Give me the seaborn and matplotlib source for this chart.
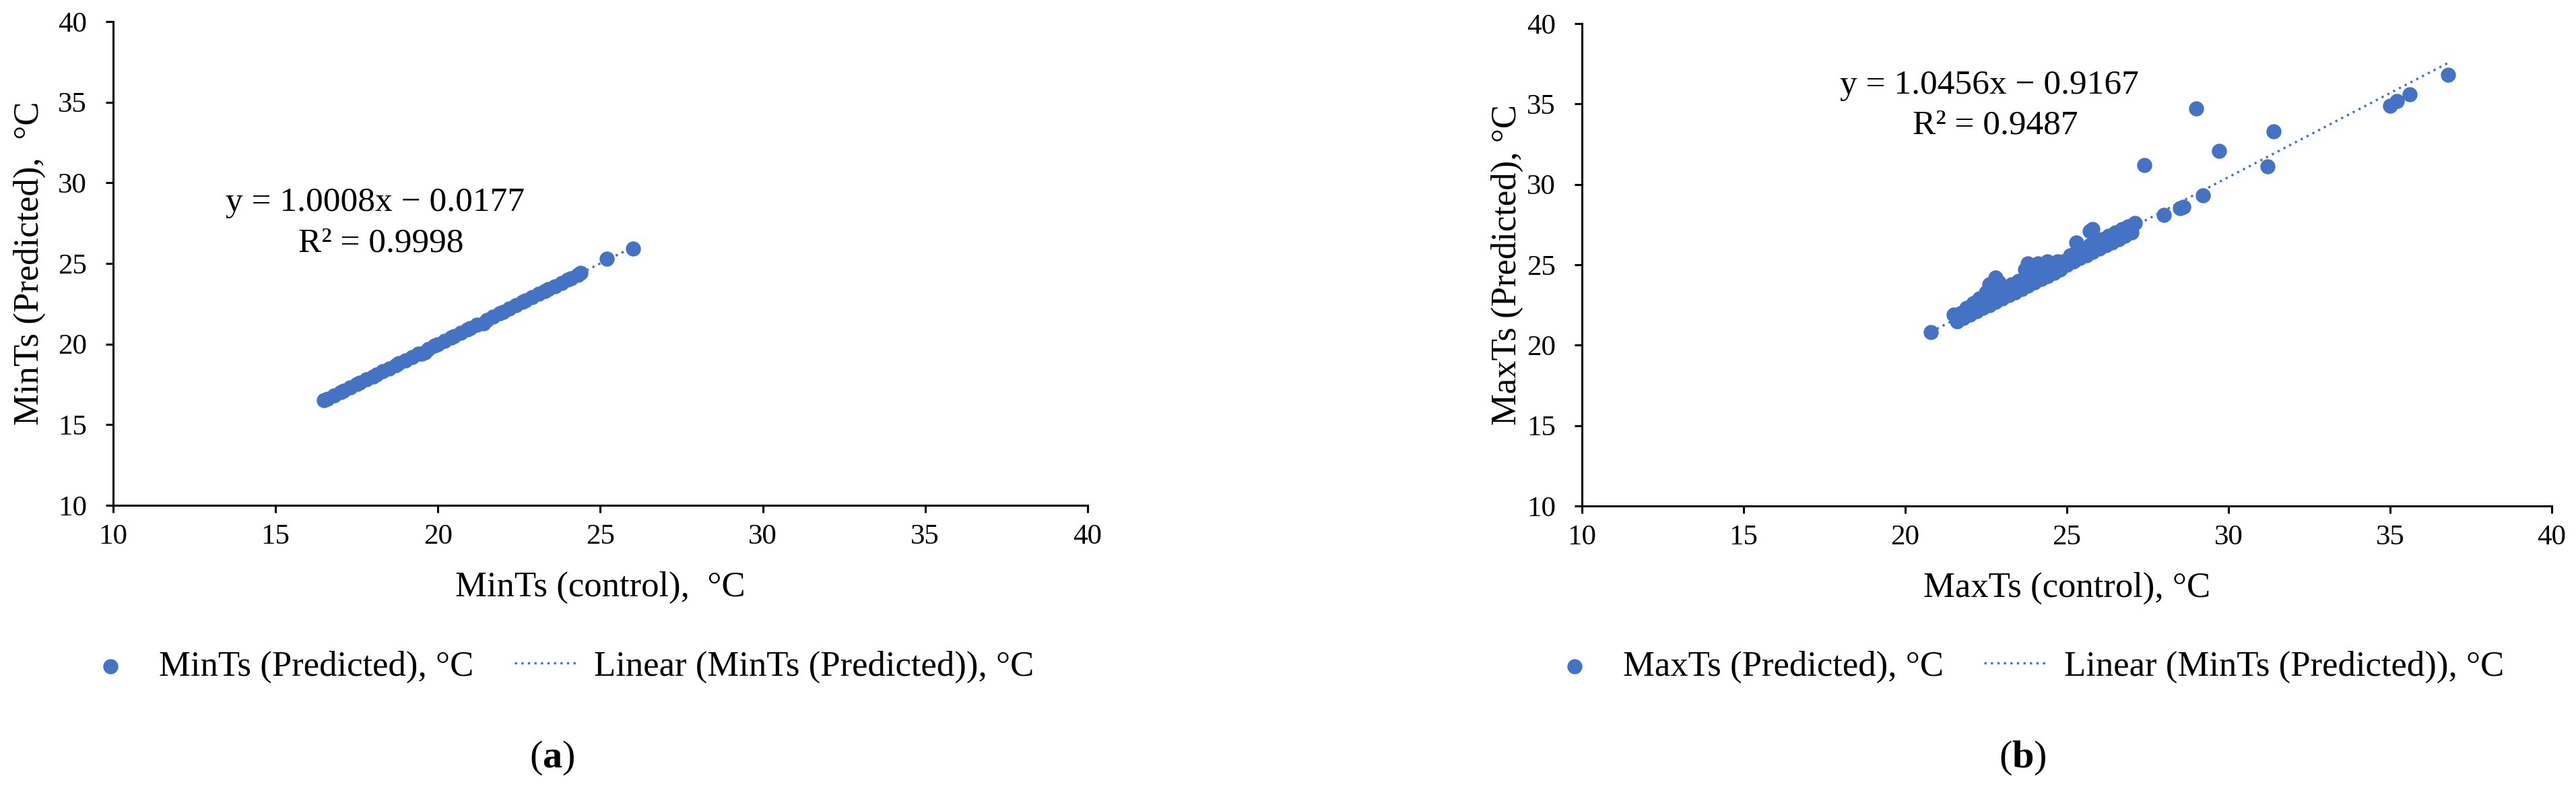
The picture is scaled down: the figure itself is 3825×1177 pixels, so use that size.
"""
Predicted vs control surface temperature (MinTs / MaxTs) scatter with
linear trend lines, two panels side by side.
"""

import numpy as np
import pandas as pd
import matplotlib
matplotlib.use("Agg")
import matplotlib.pyplot as plt
import seaborn as sns

# ── data ────────────────────────────────────────────────────────────────
min_control = [16.5, 16.6, 16.8, 17.0, 17.1, 17.3, 17.5, 17.6, 17.8, 18.0,
               18.1, 18.3, 18.5, 18.7, 18.8, 19.0, 19.2, 19.4, 19.5, 19.6,
               19.7, 19.9, 20.0, 20.2, 20.4, 20.5, 20.7, 20.9, 21.0, 21.2,
               21.4, 21.5, 21.7, 21.9, 22.0, 22.2, 22.4, 22.6, 22.7, 22.9,
               23.1, 23.3, 23.4, 23.6, 23.8, 24.0, 24.1, 24.3, 24.4, 25.2,
               26.0]
min_predicted = [16.5, 16.6, 16.8, 17.0, 17.1, 17.3, 17.5, 17.6, 17.8, 18.0,
                 18.1, 18.3, 18.5, 18.7, 18.8, 19.0, 19.2, 19.4, 19.4, 19.5,
                 19.7, 19.9, 20.0, 20.2, 20.4, 20.5, 20.7, 20.9, 21.0, 21.2,
                 21.3, 21.5, 21.7, 21.9, 22.0, 22.2, 22.4, 22.6, 22.7, 22.9,
                 23.1, 23.3, 23.4, 23.6, 23.8, 24.0, 24.1, 24.3, 24.4, 25.3,
                 25.9]

max_control = [
    # lower row of the dense cluster
    21.6, 21.8, 22.0, 22.2, 22.4, 22.6, 22.8, 23.0, 23.2, 23.4, 23.6, 23.8,
    24.0, 24.2, 24.4, 24.6, 24.8, 25.0, 25.2, 25.4, 25.6, 25.8, 26.0, 26.2,
    26.4, 26.6, 26.8, 27.0,
    # upper row of the dense cluster
    21.5, 21.7, 21.9, 22.1, 22.3, 22.5, 22.6, 22.8, 22.9, 23.1, 23.3, 23.5,
    23.7, 23.8, 24.0, 24.1, 24.3, 24.4, 24.6, 24.7, 24.9, 25.1, 25.3, 25.5,
    25.7, 25.9, 26.1, 26.3, 26.5, 26.7, 26.9, 27.1,
    # middle fill
    22.4, 22.7, 23.0, 23.4, 23.9, 24.2, 24.5, 24.8, 23.8, 24.3,
    # isolated points
    20.8, 25.3, 25.7, 25.8, 27.4, 28.0, 28.5, 28.6, 29.0, 29.2, 29.7, 31.2,
    31.4, 35.0, 35.2, 35.6, 36.8,
]
max_predicted = [
    21.5, 21.7, 21.9, 22.1, 22.3, 22.5, 22.7, 22.9, 23.1, 23.3, 23.5, 23.7,
    23.9, 24.1, 24.3, 24.5, 24.7, 25.0, 25.2, 25.4, 25.6, 25.8, 26.0, 26.2,
    26.4, 26.6, 26.8, 27.0,
    21.9, 22.0, 22.3, 22.6, 22.9, 23.3, 23.8, 24.2, 23.9, 23.6, 23.8, 24.0,
    24.7, 25.1, 24.6, 25.1, 24.8, 25.2, 24.9, 25.2, 25.2, 25.6, 25.8, 25.9,
    26.2, 26.4, 26.6, 26.8, 27.0, 27.2, 27.4, 27.6,
    22.8, 23.3, 23.4, 23.6, 24.3, 24.5, 24.6, 24.9, 24.8, 25.0,
    20.8, 26.4, 27.1, 27.2, 31.2, 28.1, 28.5, 28.6, 34.7, 29.3, 32.1, 31.1,
    33.3, 34.9, 35.2, 35.6, 36.8,
]

# trend line coefficients as printed on the chart
min_fit = (1.0008, -0.0177, 0.9998)
max_fit = (1.0456, -0.9167, 0.9487)

axis_ticks = [10, 15, 20, 25, 30, 35, 40]

BLUE = "#4472C4"

sns.set_style("ticks")
plt.rcParams.update({
    "font.family": ["Liberation Serif", "DejaVu Serif"],
    "mathtext.fontset": "custom",
    "mathtext.rm": "Liberation Serif",
    "mathtext.bf": "Liberation Serif:bold",
    "axes.edgecolor": "black",
    "axes.linewidth": 2.2,
    "xtick.color": "black",
    "ytick.color": "black",
    "text.color": "black",
    "axes.labelcolor": "black",
})


def draw_panel(ax, xs, ys, fit, xlabel, ylabel, scatter_label, eq_pos,
               ylabel_x):
    slope, icpt, r2 = fit
    df = pd.DataFrame({"control": xs, "predicted": ys})

    sns.scatterplot(data=df, x="control", y="predicted", ax=ax,
                    color=BLUE, s=260, linewidth=0, alpha=1.0,
                    label=scatter_label, zorder=3)

    lx = np.array([min(xs), max(xs)])
    ax.plot(lx, slope * lx + icpt, color=BLUE, lw=2.4,
            linestyle=(0, (1, 1.9)), label="Linear (MinTs (Predicted)), °C",
            zorder=4)

    ax.set_xlim(10, 40)
    ax.set_ylim(10, 40)
    ax.set_xticks(axis_ticks)
    ax.set_yticks(axis_ticks)
    ax.tick_params(axis="both", labelsize=31, length=8, width=2.2,
                   direction="out")
    ax.tick_params(axis="x", pad=12)
    ax.tick_params(axis="y", pad=20)
    sns.despine(ax=ax)

    ax.set_xlabel(xlabel, fontsize=38)
    ax.set_ylabel(ylabel, fontsize=38)
    ax.xaxis.set_label_coords(0.5, -0.17)
    ax.xaxis.label.set_va("center")
    ax.yaxis.set_label_coords(ylabel_x, 0.5)
    ax.yaxis.label.set_va("center")

    sign = "−" if icpt < 0 else "+"
    ax.text(eq_pos[0], eq_pos[1], f"y = {slope:.4f}x {sign} {abs(icpt):.4f}",
            fontsize=37, ha="center", va="center")
    ax.text(eq_pos[2], eq_pos[3], f"R² = {r2:.4f}",
            fontsize=37, ha="center", va="center")


fig = plt.figure(figsize=(38.25, 11.77), dpi=100)
ax_a = fig.add_axes([0.0439, 0.3628, 0.3783, 0.6100])
ax_b = fig.add_axes([0.6141, 0.3619, 0.3765, 0.6084])

draw_panel(ax_a, min_control, min_predicted, min_fit,
           "MinTs (control),  °C", "MinTs (Predicted),  °C",
           "MinTs (Predicted), °C", (18.07, 28.77, 18.25, 26.24), -0.086)
draw_panel(ax_b, max_control, max_predicted, max_fit,
           "MaxTs (control), °C", "MaxTs (Predicted), °C",
           "MaxTs (Predicted), °C", (22.6, 36.14, 22.78, 33.65), -0.077)

legend_kw = dict(loc="center", ncol=2, frameon=False, fontsize=38,
                 handlelength=1.8, handletextpad=0.45, columnspacing=1.15,
                 bbox_transform=fig.transFigure, borderaxespad=0,
                 borderpad=0)
ax_a.legend(bbox_to_anchor=(0.216, 0.159), **legend_kw)
ax_b.legend(bbox_to_anchor=(0.7855, 0.159), **legend_kw)

fig.text(0.2144, 0.044, r"($\mathbf{a}$)", fontsize=42, ha="center",
         va="center")
fig.text(0.7851, 0.044, r"($\mathbf{b}$)", fontsize=42, ha="center",
         va="center")

fig.savefig("out.png", dpi=100, facecolor="white")
plt.close(fig)
